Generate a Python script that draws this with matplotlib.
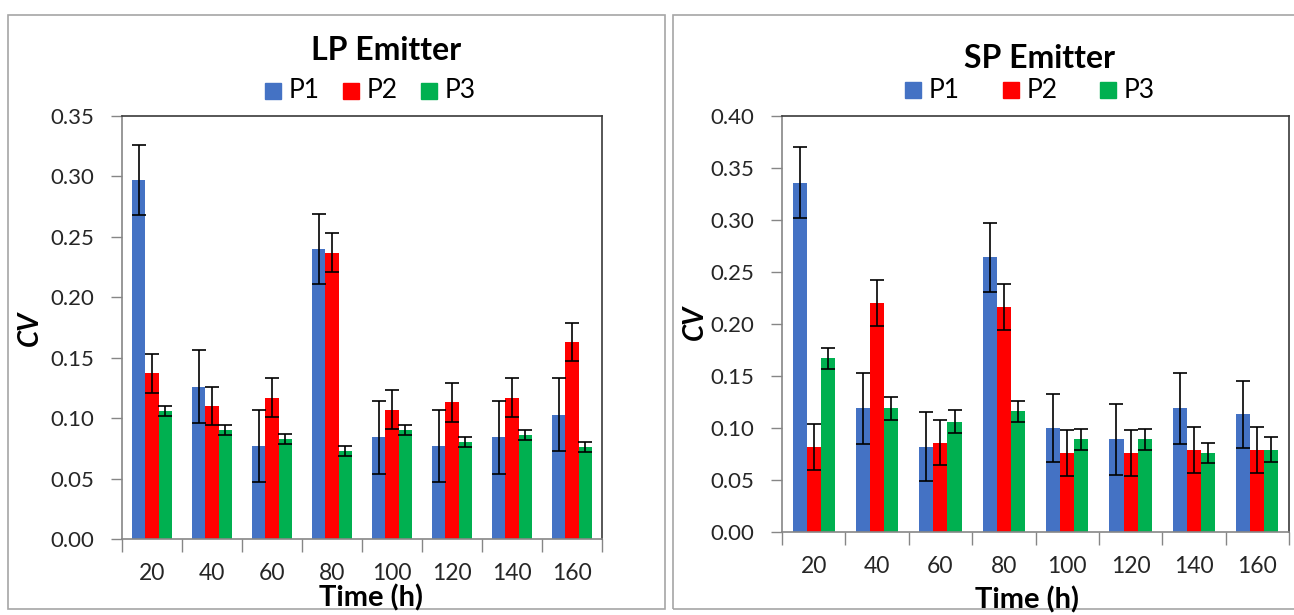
import numpy as np
import matplotlib
matplotlib.use("Agg")
import matplotlib.pyplot as plt
from matplotlib.patches import Rectangle

plt.rcParams['font.family'] = ['Lato', 'DejaVu Sans']

# category labels (time, h)
times = ["20", "40", "60", "80", "100", "120", "140", "160"]
series_names = ["P1", "P2", "P3"]

# LP emitter: CV values and error bars
lp_p1 = [0.297, 0.126, 0.077, 0.240, 0.084, 0.077, 0.084, 0.103]
lp_p2 = [0.137, 0.110, 0.117, 0.237, 0.107, 0.113, 0.117, 0.163]
lp_p3 = [0.106, 0.090, 0.083, 0.073, 0.090, 0.080, 0.086, 0.076]
lp_p1_err = [0.029, 0.030, 0.030, 0.029, 0.030, 0.030, 0.030, 0.030]
lp_p2_err = [0.016, 0.016, 0.016, 0.016, 0.016, 0.016, 0.016, 0.016]
lp_p3_err = [0.004, 0.004, 0.004, 0.004, 0.004, 0.004, 0.004, 0.004]

# SP emitter: CV values and error bars
sp_p1 = [0.336, 0.119, 0.082, 0.264, 0.100, 0.089, 0.119, 0.113]
sp_p2 = [0.082, 0.220, 0.086, 0.216, 0.076, 0.076, 0.079, 0.079]
sp_p3 = [0.167, 0.119, 0.106, 0.116, 0.089, 0.089, 0.076, 0.079]
sp_p1_err = [0.034, 0.034, 0.033, 0.033, 0.033, 0.034, 0.034, 0.032]
sp_p2_err = [0.022, 0.022, 0.022, 0.022, 0.022, 0.022, 0.022, 0.022]
sp_p3_err = [0.010, 0.011, 0.011, 0.010, 0.010, 0.010, 0.010, 0.012]

colors = ["#4472C4", "#FF0000", "#00B050"]

W, H = 1294, 615
fig = plt.figure(figsize=(W / 100, H / 100), dpi=100)

# panel frames (two excel chart boxes side by side)
for (x0, x1) in [(8, 665), (673, 1310)]:
    fig.patches.append(Rectangle((x0 / W, 1 - 609 / H), (x1 - x0) / W, (609 - 15) / H,
                                 transform=fig.transFigure, fill=False,
                                 edgecolor="#A6A6A6", linewidth=1.2))


def draw_panel(rect, vals, errs, ymax, title, title_xy, leg_xy, leg_gap, xlab_xy, cv_xy):
    ax = fig.add_axes(rect)
    x = np.arange(len(times))
    w = 0.222
    for i in range(3):
        ax.bar(x + (i - 1) * w, vals[i], w, color=colors[i], zorder=2,
               yerr=errs[i], error_kw=dict(ecolor="black", elinewidth=1.2,
                                           capsize=5, capthick=1.2))
    ax.set_xlim(-0.5, len(times) - 0.5)
    ax.set_ylim(0, ymax)
    ax.set_yticks(np.arange(0, ymax + 0.001, 0.05))
    ax.set_yticklabels(["%.2f" % v for v in np.arange(0, ymax + 0.001, 0.05)])
    ax.set_xticks(x)
    ax.set_xticklabels(times)
    ax.set_xticks(np.arange(-0.5, len(times)), minor=True)
    ax.tick_params(axis="x", which="major", length=0, pad=17, labelsize=16.5, labelcolor="#262626")
    ax.tick_params(axis="x", which="minor", length=9, color="#868686", width=1)
    ax.tick_params(axis="y", length=8, color="#868686", width=1, pad=12,
                   labelsize=16, labelcolor="#262626")
    for s in ["left", "bottom"]:
        ax.spines[s].set_color("#868686")
        ax.spines[s].set_linewidth(1.2)
    for s in ["top", "right"]:
        ax.spines[s].set_color("#3A3A3A")
        ax.spines[s].set_linewidth(1.2)

    fig.text(title_xy[0] / W, 1 - title_xy[1] / H, title, ha="center", va="center",
             fontsize=23, fontweight="bold")
    # legend drawn as square markers + labels
    lx, ly = leg_xy
    for i, name in enumerate(series_names):
        px = lx + i * leg_gap
        fig.patches.append(Rectangle(((px - 18) / W, 1 - (ly + 8) / H), 16 / W, 16 / H,
                                     transform=fig.transFigure, color=colors[i]))
        fig.text((px + 6) / W, 1 - ly / H, name, ha="left", va="center", fontsize=19)
    fig.text(xlab_xy[0] / W, 1 - xlab_xy[1] / H, "Time (h)", ha="center", va="center",
             fontsize=21, fontweight="bold")
    fig.text(cv_xy[0] / W, 1 - cv_xy[1] / H, "CV", ha="center", va="center", rotation=90,
             fontsize=20, fontweight="bold", fontstyle="italic")
    return ax


draw_panel([122 / W, 1 - 539 / H, (602 - 122) / W, (539 - 116) / H],
           [lp_p1, lp_p2, lp_p3], [lp_p1_err, lp_p2_err, lp_p3_err], 0.35,
           "LP Emitter", (386, 50), (283, 91), 78, (371, 598), (30, 328))

draw_panel([782 / W, 1 - 532 / H, (1289 - 782) / W, (532 - 116) / H],
           [sp_p1, sp_p2, sp_p3], [sp_p1_err, sp_p2_err, sp_p3_err], 0.40,
           "SP Emitter", (1040, 59), (923, 90), 97.5, (1027, 600), (695, 322))

fig.savefig("out.png", dpi=100)
